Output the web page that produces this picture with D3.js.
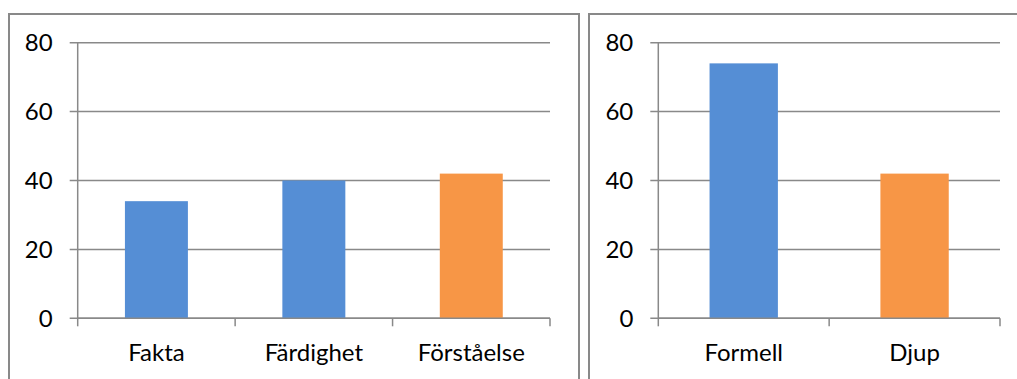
<!DOCTYPE html>
<html>
<head>
<meta charset="utf-8">
<script src="https://cdn.jsdelivr.net/npm/d3@7"></script>
<style>
  html, body { margin: 0; padding: 0; background: #fff; }
  svg { display: block; }
  text { font-family: Lato, "Open Sans", sans-serif; fill: #000; }
</style>
</head>
<body>
<svg id="chart" width="1017" height="379"></svg>
<script>
// Left chart: knowledge types
const leftCategories = ["Fakta", "Färdighet", "Förståelse"];
const leftValues = [34, 40, 42];
const leftColors = ["#558ed5", "#558ed5", "#f79646"];

// Right chart: formal vs. deep
const rightCategories = ["Formell", "Djup"];
const rightValues = [74, 42];
const rightColors = ["#558ed5", "#f79646"];

// Shared value axis
const yTicks = [0, 20, 40, 60, 80];

const svg = d3.select("#chart");
const gridColor = "#898989";
const fontSize = "24px";

function drawPanel(cfg) {
  const g = svg.append("g");

  // panel frame
  g.append("rect")
    .attr("x", cfg.frame[0]).attr("y", cfg.frame[1])
    .attr("width", cfg.frame[2]).attr("height", cfg.frame[3])
    .attr("fill", "#fff").attr("stroke", gridColor).attr("stroke-width", 2);

  const y = d3.scaleLinear().domain([0, 80]).range([cfg.bottom, cfg.top]);
  const x = d3.scaleBand()
    .domain(cfg.categories)
    .range([cfg.left, cfg.right])
    .paddingInner(0.6)
    .paddingOuter(0.3);

  // horizontal gridlines with outer ticks
  g.append("g").selectAll("line").data(yTicks).join("line")
    .attr("x1", cfg.left - 8).attr("x2", cfg.right)
    .attr("y1", d => y(d)).attr("y2", d => y(d))
    .attr("stroke", gridColor).attr("stroke-width", 1.5);

  // y axis labels
  g.append("g").selectAll("text").data(yTicks).join("text")
    .attr("x", cfg.left - 25)
    .attr("y", d => y(d))
    .attr("dy", "0.36em")
    .attr("text-anchor", "end")
    .style("font-size", fontSize)
    .text(d => d);

  // bars
  g.append("g").selectAll("rect").data(cfg.values).join("rect")
    .attr("x", (d, i) => x(cfg.categories[i]))
    .attr("width", x.bandwidth())
    .attr("y", d => y(d))
    .attr("height", d => y(0) - y(d))
    .attr("fill", (d, i) => cfg.colors[i]);

  // y axis line
  g.append("line")
    .attr("x1", cfg.left).attr("x2", cfg.left)
    .attr("y1", cfg.top).attr("y2", cfg.bottom)
    .attr("stroke", gridColor).attr("stroke-width", 1.5);

  // category axis line and boundary ticks
  g.append("line")
    .attr("x1", cfg.left).attr("x2", cfg.right)
    .attr("y1", cfg.bottom).attr("y2", cfg.bottom)
    .attr("stroke", gridColor).attr("stroke-width", 1.5);
  const step = x.step();
  const bounds = d3.range(cfg.categories.length + 1).map(i => cfg.left + i * step);
  g.append("g").selectAll("line").data(bounds).join("line")
    .attr("x1", d => d).attr("x2", d => d)
    .attr("y1", cfg.bottom).attr("y2", cfg.bottom + 8)
    .attr("stroke", gridColor).attr("stroke-width", 1.5);

  // category labels
  g.append("g").selectAll("text").data(cfg.categories).join("text")
    .attr("x", d => x(d) + x.bandwidth() / 2)
    .attr("y", cfg.bottom + 43)
    .attr("text-anchor", "middle")
    .style("font-size", fontSize)
    .text(d => d);
}

drawPanel({
  frame: [9, 14, 570, 420],
  left: 77.7, right: 550, top: 42.7, bottom: 318.3,
  categories: leftCategories, values: leftValues, colors: leftColors
});

drawPanel({
  frame: [589, 14, 440, 420],
  left: 658.3, right: 1000, top: 42.7, bottom: 318.3,
  categories: rightCategories, values: rightValues, colors: rightColors
});
</script>
</body>
</html>
